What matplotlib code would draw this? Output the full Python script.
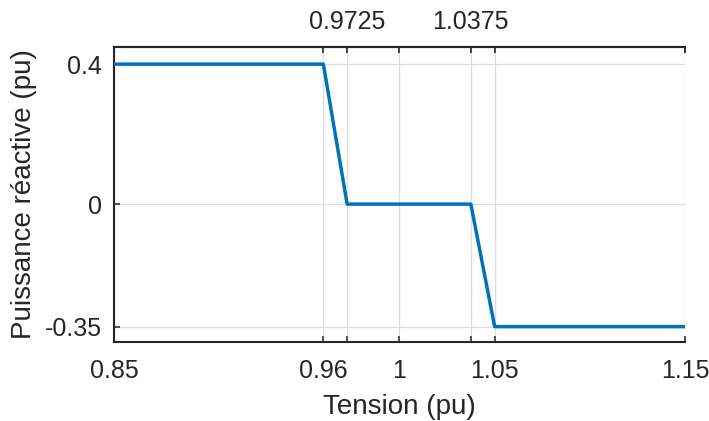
import matplotlib
matplotlib.use('Agg')
from matplotlib import pyplot as plt

# droite statisme Q(V)
tension = [0.85, 0.96, 0.9725, 1.0375, 1.05, 1.15]
puissance = [0.4, 0.4, 0.0, 0.0, -0.35, -0.35]

xticks_bas = [0.85, 0.96, 0.9725, 1.0, 1.0375, 1.05, 1.15]
xlabels_bas = ['0.85', '0.96', '', '1', '', '1.05', '1.15']
xlabels_haut = ['', '', '0.9725', '', '1.0375', '', '']
yticks = [-0.35, 0.0, 0.4]
ylabels = ['-0.35', '0', '0.4']

plt.rcParams['font.family'] = ['Liberation Sans', 'DejaVu Sans']
noir = '#262626'
taille = 18

fig = plt.figure(figsize=(7.09, 4.21), dpi=100)
ax = fig.add_axes([0.1608, 0.1876, 0.8053, 0.7008])

ax.plot(tension, puissance, color='#0072BD', linewidth=2.5, zorder=3)

ax.set_xlim(0.85, 1.15)
ax.set_ylim(-0.394, 0.449)
ax.set_xticks(xticks_bas)
ax.set_xticklabels(xlabels_bas)
ax.set_yticks(yticks)
ax.set_yticklabels(ylabels)

ax.grid(True, color='#dedede', linewidth=0.9)
ax.set_axisbelow(True)

ax.tick_params(axis='x', direction='in', length=4.5, width=1.1, color=noir,
               labelsize=taille, labelcolor=noir, pad=12, top=True)
ax.tick_params(axis='y', direction='in', length=4.5, width=1.1, color=noir,
               labelsize=taille, labelcolor=noir, pad=9)

# labels du haut
haut = ax.secondary_xaxis('top')
haut.set_xticks(xticks_bas)
haut.set_xticklabels(xlabels_haut)
haut.tick_params(direction='in', length=4.5, width=1.1, color=noir,
                 labelsize=taille, labelcolor=noir, pad=9)
haut.spines['top'].set_color(noir)
haut.spines['top'].set_linewidth(1.5)

for s in ['left', 'bottom', 'top']:
    ax.spines[s].set_color(noir)
    ax.spines[s].set_linewidth(1.5)
ax.spines['right'].set_visible(False)

ax.set_xlabel('Tension (pu)', fontsize=20, color=noir)
ax.set_ylabel('Puissance réactive (pu)', fontsize=20, color=noir)
ax.xaxis.set_label_coords(0.5, -0.175)
ax.yaxis.set_label_coords(-0.135, 0.5)

fig.savefig('out.png', dpi=100)
